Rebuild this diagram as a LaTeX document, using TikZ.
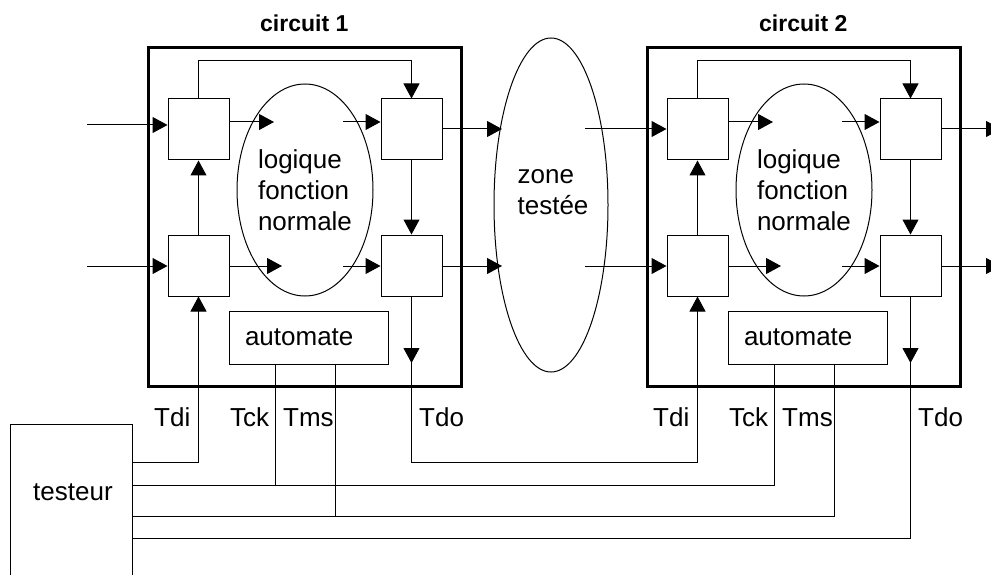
\documentclass[tikz,border=0pt]{standalone}
\usepackage{fontspec}
\setmainfont{Liberation Sans}
\usetikzlibrary{arrows.meta,shapes.geometric}
\begin{document}
\begin{tikzpicture}[x=1pt,y=-1pt,
  wire/.style={line width=1pt},
  arr/.style={wire,-{Triangle[length=15pt,width=16pt]}},
  cell/.style={draw,line width=1pt,minimum width=61pt,minimum height=61pt,inner sep=0pt},
  frame/.style={draw,line width=3pt,minimum width=313pt,minimum height=339pt,inner sep=0pt},
  blob/.style={draw,ellipse,line width=1pt,inner sep=0pt},
  txt/.style={font=\fontsize{26}{31}\selectfont,inner sep=0pt},
  title/.style={font=\fontsize{23}{27}\selectfont\bfseries,inner sep=0pt,anchor=base west},
  lbl/.style={txt,anchor=base west}]
\useasboundingbox (0,0) rectangle (991,575);
\clip (0,0) rectangle (991,575);

% the two identical circuits
\foreach \dx/\k/\c in {0/1/a,499/2/b}{
\begin{scope}[xshift=\dx pt]
  \node[frame] (\c-frame) at (305,217) {};
  \node[title] (\c-title) at (260,32) {circuit \k};
  \node[cell] (\c-tl) at (198.5,129.5) {};
  \node[cell] (\c-tr) at (411.5,129.5) {};
  \node[cell] (\c-bl) at (198.5,265.5) {};
  \node[cell] (\c-br) at (411.5,265.5) {};
  \node[blob,txt,align=left,minimum width=136pt,minimum height=212pt] (\c-logic) at (305,190) {logique\\fonction\\normale};
  \node[draw,line width=1pt,txt,minimum width=159pt,minimum height=53pt,text width=127pt,align=left] (\c-aut) at (308.5,337.5) {automate};
  \node[lbl] (\c-tdi) at (154,426) {Tdi};
  \node[lbl] (\c-tck) at (230,426) {Tck};
  \node[lbl] (\c-tms) at (283,426) {Tms};
  \node[lbl] (\c-tdo) at (419,426) {Tdo};
  \coordinate (\c-m1) at (274,122);
  \coordinate (\c-m2) at (343,122);
  \coordinate (\c-m3) at (282,266);
  \coordinate (\c-m4) at (343,266);
  \coordinate (\c-ck) at (275,364);
  \coordinate (\c-ms) at (335,364);
  \coordinate (\c-do) at (411.5,363);
  \draw[arr] (\c-tl.north) -- (\c-tl.north |- 0,61) -| (\c-tr.north);
  \draw[arr] (\c-bl.north) -- (\c-tl.south);
  \draw[arr] (\c-tr.south) -- (\c-br.north);
  \draw[arr] (\c-tl.east |- \c-m1) -- (\c-m1);
  \draw[arr] (\c-m2) -- (\c-m2 -| \c-tr.west);
  \draw[arr] (\c-bl.east |- \c-m3) -- (\c-m3);
  \draw[arr] (\c-m4) -- (\c-m4 -| \c-br.west);
  \draw[arr] (\c-br.south) -- (\c-do);
\end{scope}
}

% tested zone between the circuits
\node[blob,minimum width=114pt,minimum height=334pt] (zone) at (551,205) {};
\node[txt,align=left] (zonetxt) at (553,192.25) {zone\\testée};

% functional inputs and outputs
\coordinate (in1) at (87,125);
\coordinate (in2) at (87,266);
\coordinate (z1) at (502,129);
\coordinate (z2) at (502,266);
\coordinate (z3) at (585,129);
\coordinate (z4) at (585,266);
\coordinate (out1) at (1001,129);
\coordinate (out2) at (1001,266);
\draw[arr] (in1) -- (in1 -| a-tl.west);
\draw[arr] (in2) -- (in2 -| a-bl.west);
\draw[arr] (a-tr.east |- z1) -- (z1);
\draw[arr] (a-br.east |- z2) -- (z2);
\draw[arr] (z3) -- (z3 -| b-tl.west);
\draw[arr] (z4) -- (z4 -| b-bl.west);
\draw[arr] (b-tr.east |- out1) -- (out1);
\draw[arr] (b-br.east |- out2) -- (out2);

% tester and test bus
\node[draw,line width=1pt,minimum width=122pt,minimum height=170pt,inner sep=0pt] (tst) at (71,509) {};
\node[lbl] (tsttxt) at (33,500) {testeur};
\coordinate (ydi) at (0,462);
\coordinate (yck) at (0,485);
\coordinate (yms) at (0,516);
\coordinate (ydo) at (0,538);
\draw[arr] (tst.east |- ydi) -| (a-bl.south);
\draw[arr] (a-br.south) -- (a-br.south |- ydi) -| (b-bl.south);
\draw[wire] (tst.east |- yck) -| (b-ck);
\draw[wire] (a-ck) -- (a-ck |- yck);
\draw[wire] (tst.east |- yms) -| (b-ms);
\draw[wire] (a-ms) -- (a-ms |- yms);
\draw[wire] (b-br.south) |- (tst.east |- ydo);
\end{tikzpicture}
\end{document}
